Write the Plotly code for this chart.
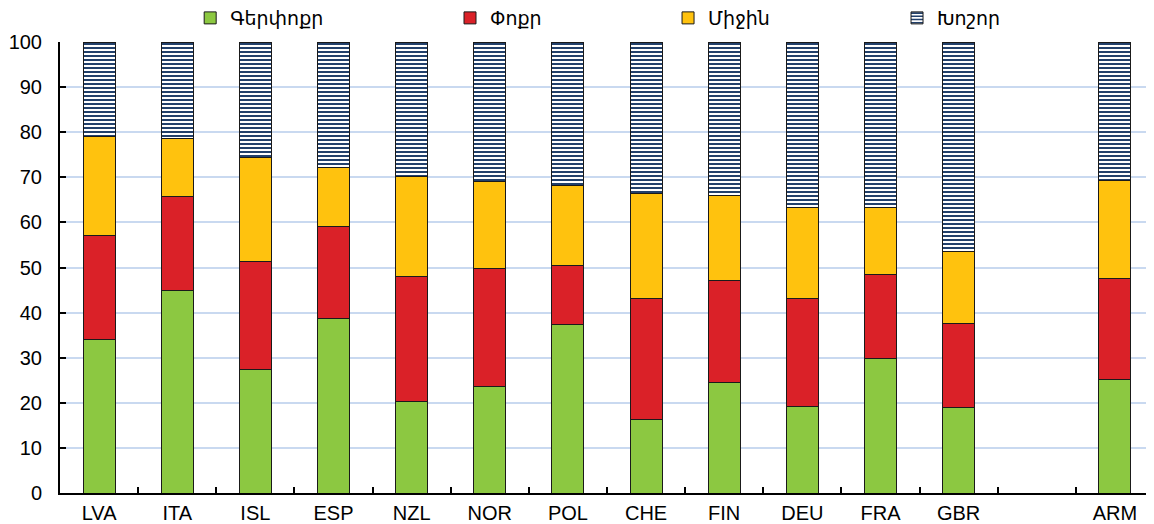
import plotly.graph_objects as go

categories = ["LVA", "ITA", "ISL", "ESP", "NZL", "NOR", "POL", "CHE", "FIN", "DEU", "FRA", "GBR", " ", "ARM"]
# cumulative tops
micro_top = [34.0, 44.8, 27.3, 38.6, 20.2, 23.6, 37.3, 16.2, 24.4, 19.1, 29.9, 18.9, None, 25.2]
small_top = [57.2, 65.7, 51.4, 59.0, 48.0, 49.8, 50.4, 43.1, 47.1, 43.2, 48.5, 37.5, None, 47.5]
medium_top = [79.0, 78.6, 74.5, 72.2, 70.1, 69.0, 68.1, 66.4, 65.9, 63.4, 63.2, 53.6, None, 69.3]

micro = list(micro_top)
small = [None if t is None else t - b for t, b in zip(small_top, micro_top)]
medium = [None if t is None else t - b for t, b in zip(medium_top, small_top)]
large = [None if t is None else 100 - t for t in medium_top]

names = ["Գերփոքր", "Փոքր", "Միջին", "Խոշոր"]
colors = ["#8cc841", "#da2128", "#ffc20e", "#ffffff"]
legend_ids = ["legend", "legend2", "legend3", "legend4"]
legend_x = [0.119, 0.3565, 0.5558, 0.7651]

fig = go.Figure()
line = dict(color="#1a1a1a", width=1)
for name, vals, col, lid in zip(names[:3], [micro, small, medium], colors[:3], legend_ids[:3]):
    fig.add_trace(go.Bar(x=categories, y=vals, name=name, legend=lid, showlegend=True,
                         marker=dict(color=col, line=line)))
fig.add_trace(go.Bar(
    x=categories, y=large, name=names[3], legend=legend_ids[3], showlegend=True,
    marker=dict(color="#ffffff", line=line,
                pattern=dict(shape="-", fgcolor="#22406b", bgcolor="#ffffff",
                             fgopacity=1, size=4, solidity=0.5)),
))

font = "Liberation Sans, Arial, DejaVu Sans, sans-serif"
legend_common = dict(orientation="h", xanchor="left", y=1.011, yanchor="bottom", visible=True,
                     font=dict(size=19), bgcolor="rgba(0,0,0,0)")
legends = {lid: dict(legend_common, x=lx) for lid, lx in zip(legend_ids, legend_x)}

fig.update_layout(
    width=1146, height=516,
    showlegend=True,
    barmode="stack", bargap=0.59,
    margin=dict(l=52, r=0, t=34, b=31, autoexpand=False),
    plot_bgcolor="white", paper_bgcolor="white",
    font=dict(family=font, size=20, color="#000000"),
    xaxis=dict(type="category", categoryorder="array", categoryarray=categories,
               tickson="boundaries", ticks="inside", ticklen=6, tickcolor="black", tickwidth=2,
               ticklabelstandoff=1,
               showline=True, linecolor="black", linewidth=2, showgrid=False,
               tickfont=dict(size=20)),
    yaxis=dict(range=[0, 100], dtick=10, ticks="inside", ticklen=6, tickcolor="black", tickwidth=2,
               ticklabelstandoff=12,
               showline=True, linecolor="black", linewidth=2,
               showgrid=True, gridcolor="#c9d9f0", gridwidth=2, zeroline=False,
               tickfont=dict(size=20)),
    **legends,
)
fig.write_html("out.html")
